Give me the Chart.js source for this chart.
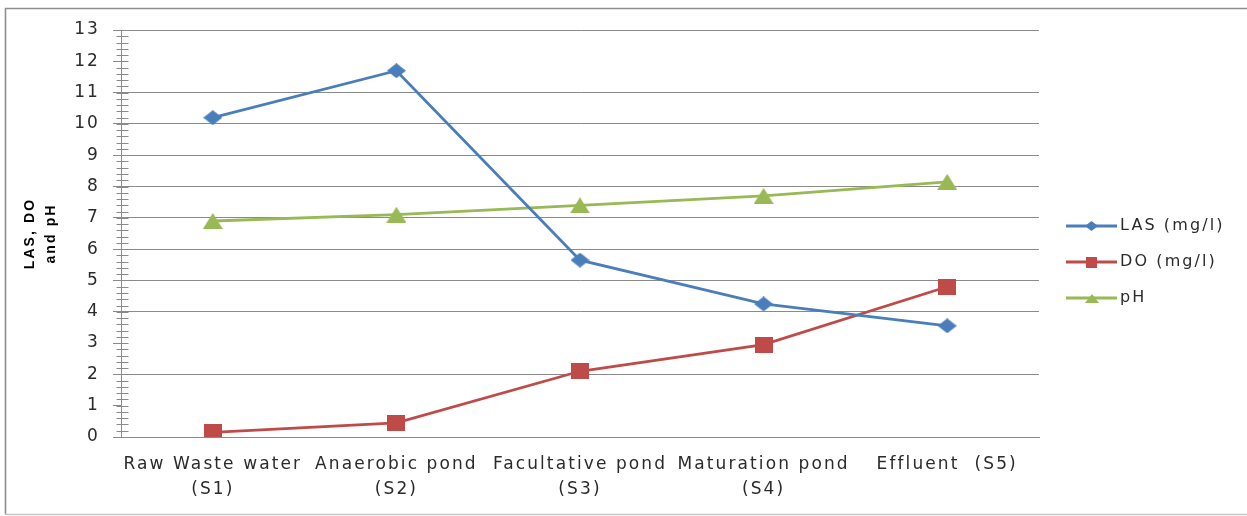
<!DOCTYPE html>
<html>
<head>
<meta charset="utf-8">
<title>LAS, DO and pH along the pond system</title>
<script src="https://cdn.jsdelivr.net/npm/chart.js@4/dist/chart.umd.min.js"></script>
<style>
  html, body { margin: 0; padding: 0; background: #ffffff; }
  canvas { display: block; }
</style>
</head>
<body>
<canvas id="chart" width="1247" height="516" style="width:1247px;height:516px"></canvas>
<script>
// Sampling stations along the treatment train
const stations = [
  ['Raw Waste water', '(S1)'],
  ['Anaerobic pond', '(S2)'],
  ['Facultative pond', '(S3)'],
  ['Maturation pond', '(S4)'],
  ['Effluent  (S5)']
];

// Measured values per station
const lasValues = [10.2, 11.7, 5.65, 4.25, 3.55];
const doValues  = [0.15, 0.45, 2.1, 2.95, 4.8];
const phValues  = [6.9, 7.1, 7.4, 7.7, 8.15];

const seriesNames = ['LAS (mg/l)', 'DO (mg/l)', 'pH'];
const yTitle = ['LAS, DO', 'and pH'];
const yMin = 0, yMax = 13, yStep = 1, yMinorStep = 0.2;

const FONT = '"DejaVu Sans", "Liberation Sans", sans-serif';
const TEXT = '#2b2b2b';
const RULE = '#8a8a8a';
const COLORS = ['#4A7EBB', '#BE4B48', '#98B954'];

// Small canvas images used as point markers
function markerImage(shape, w, h, color) {
  const c = document.createElement('canvas');
  c.width = w; c.height = h;
  const g = c.getContext('2d');
  g.fillStyle = color;
  g.beginPath();
  if (shape === 'diamond') {
    g.moveTo(w / 2, 0); g.lineTo(w, h / 2); g.lineTo(w / 2, h); g.lineTo(0, h / 2);
  } else if (shape === 'triangle') {
    g.moveTo(w / 2, 0); g.lineTo(w, h); g.lineTo(0, h);
  } else {
    g.rect(0, 0, w, h);
  }
  g.closePath();
  g.fill();
  return c;
}

const pointMarkers = [
  markerImage('diamond', 19, 15, COLORS[0]),
  markerImage('square', 18, 16, COLORS[1]),
  markerImage('triangle', 20, 16, COLORS[2])
];
const legendMarkers = [
  markerImage('diamond', 13, 10, COLORS[0]),
  markerImage('square', 11, 11, COLORS[1]),
  markerImage('triangle', 14, 9, COLORS[2])
];

// Wider letter spacing for the canvas text
const SPACING = '2.1px';
const letterSpacing = {
  id: 'letterSpacing',
  beforeLayout(chart) { chart.ctx.letterSpacing = SPACING; },
  beforeDraw(chart) { chart.ctx.letterSpacing = SPACING; }
};

// Outer frame of the chart
const frame = {
  id: 'frame',
  beforeDraw(chart) {
    const ctx = chart.ctx;
    ctx.save();
    ctx.lineWidth = 1.6;
    ctx.strokeStyle = '#8e8e8e';
    ctx.beginPath();
    ctx.moveTo(chart.width, 8.5);
    ctx.lineTo(5.5, 8.5);
    ctx.lineTo(5.5, 514.5);
    ctx.stroke();
    ctx.strokeStyle = '#c6c6c6';
    ctx.beginPath();
    ctx.moveTo(5.5, 514.5);
    ctx.lineTo(chart.width, 514.5);
    ctx.stroke();
    ctx.restore();
  }
};

// Minor tick marks crossing the value axis
const minorTicks = {
  id: 'minorTicks',
  beforeDatasetsDraw(chart) {
    const s = chart.scales.y;
    const ctx = chart.ctx;
    const x = Math.round(s.right) + 0.5;
    const n = Math.round((yMax - yMin) / yMinorStep);
    ctx.save();
    ctx.strokeStyle = RULE;
    ctx.lineWidth = 1;
    ctx.beginPath();
    for (let i = 0; i <= n; i++) {
      const y = Math.round(s.getPixelForValue(yMin + i * yMinorStep)) + 0.5;
      ctx.moveTo(x - 5, y);
      ctx.lineTo(x + 7, y);
    }
    ctx.stroke();
    ctx.restore();
  }
};

// Legend on the right: line sample with marker, then the series name
const sideLegend = {
  id: 'sideLegend',
  afterDraw(chart) {
    const ctx = chart.ctx;
    const x0 = 1066, x1 = 1117, tx = 1120;
    const rows = [226, 262, 298];
    chart.data.datasets.forEach((ds, i) => {
      const y = rows[i];
      ctx.save();
      ctx.strokeStyle = ds.borderColor;
      ctx.lineWidth = 3;
      ctx.beginPath();
      ctx.moveTo(x0, y);
      ctx.lineTo(x1, y);
      ctx.stroke();
      const img = legendMarkers[i];
      ctx.drawImage(img, Math.round((x0 + x1) / 2 - img.width / 2), Math.round(y - img.height / 2));
      ctx.fillStyle = TEXT;
      ctx.font = '16px ' + FONT;
      ctx.textAlign = 'left';
      ctx.textBaseline = 'middle';
      ctx.fillText(ds.label, tx, y);
      ctx.restore();
    });
  }
};

const hiddenGrid = [1, 3, 12];

function series(i, values) {
  return {
    label: seriesNames[i],
    data: values,
    borderColor: COLORS[i],
    backgroundColor: COLORS[i],
    borderWidth: 2.8,
    tension: 0,
    pointStyle: pointMarkers[i],
    pointRadius: 6,
    pointHoverRadius: 6,
    fill: false
  };
}

new Chart(document.getElementById('chart'), {
  type: 'line',
  data: {
    labels: stations,
    datasets: [series(0, lasValues), series(1, doValues), series(2, phValues)]
  },
  options: {
    responsive: false,
    animation: false,
    events: [],
    layout: { padding: { top: 30, right: 208, bottom: 0, left: 0 } },
    plugins: {
      legend: { display: false },
      tooltip: { enabled: false }
    },
    scales: {
      x: {
        offset: true,
        grid: { display: false, drawTicks: false },
        border: { display: true, color: RULE, width: 1 },
        ticks: {
          color: TEXT,
          font: { family: FONT, size: 17, lineHeight: 1.47 },
          padding: 15,
          maxRotation: 0,
          minRotation: 0,
          autoSkip: false
        },
        afterFit(s) { s.height = 79; }
      },
      y: {
        min: yMin,
        max: yMax,
        ticks: {
          stepSize: yStep,
          color: TEXT,
          font: { family: FONT, size: 17 },
          padding: 13
        },
        grid: {
          color: (c) => (c.tick && hiddenGrid.includes(c.tick.value)) ? 'rgba(0,0,0,0)' : RULE,
          lineWidth: 1,
          drawTicks: true,
          tickLength: 8,
          tickColor: RULE
        },
        border: { display: true, color: RULE, width: 1 },
        title: {
          display: true,
          text: yTitle,
          color: '#000000',
          font: { family: '"Liberation Sans", Arial, sans-serif', size: 14, weight: 'bold', lineHeight: 1.55 },
          padding: { top: 19, bottom: 0 }
        },
        afterFit(s) { s.width = 121; }
      }
    }
  },
  plugins: [letterSpacing, frame, minorTicks, sideLegend]
});
</script>
</body>
</html>
